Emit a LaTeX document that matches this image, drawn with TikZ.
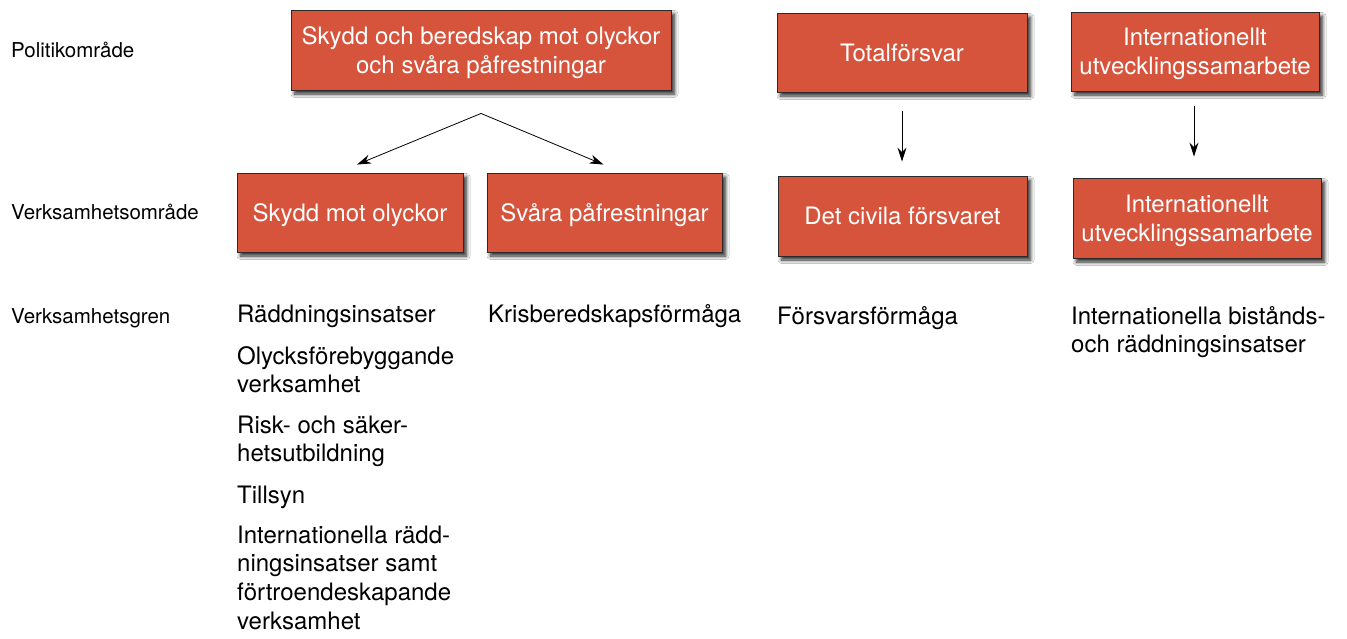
\documentclass[tikz,border=0pt]{standalone}
\usepackage{fontspec}
\setmainfont{TeX Gyre Heros}
\usetikzlibrary{arrows.meta,shadows.blur,calc}
\definecolor{boxred}{HTML}{D6543C}
\definecolor{boxline}{HTML}{2A2A2A}
\newcommand\itemlines[1]{\begin{tabular}[t]{@{}l@{}}#1\end{tabular}}
\newcommand\boxlines[1]{\raisebox{-3pt}[\height][\depth]{\begin{tabular}{@{}c@{}}#1\end{tabular}}}
\tikzset{
  redbox/.style={draw=boxline, line width=0.9pt, fill=boxred, text=white,
    inner sep=2pt,
    font=\fontsize{24}{29}\selectfont,
    blur shadow={shadow xshift=3.5pt, shadow yshift=-4pt, shadow blur radius=3.5pt, shadow blur steps=8, shadow opacity=85}},
  rowlabel/.style={anchor=base west, inner sep=0pt, font=\fontsize{20.5}{25}\selectfont},
  item/.style={anchor=base west, inner sep=0pt, font=\fontsize{24}{28.7}\selectfont},
  conn/.style={draw=black, line width=0.8pt, -{Stealth[length=14pt,width=9pt,inset=4.5pt]}},
}
\begin{document}
\begin{tikzpicture}[x=1pt,y=-1pt]
\useasboundingbox[fill=white] (0,0) rectangle (1347,638);
% row labels
\node[rowlabel] (l1) at (11,57) {Politikområde};
\node[rowlabel] (l2) at (11,219) {Verksamhetsområde};
\node[rowlabel] (l3) at (11,323) {Verksamhetsgren};
% boxes
\node[redbox, minimum width=380pt, minimum height=80pt] (top) at (481,50) {\boxlines{Skydd och beredskap mot olyckor\\och svåra påfrestningar}};
\node[redbox, minimum width=226pt, minimum height=79pt] (skydd) at (350,212.5) {\boxlines{Skydd mot olyckor}};
\node[redbox, minimum width=235pt, minimum height=79pt] (svara) at (604.5,212.5) {\boxlines{Svåra påfrestningar}};
\node[redbox, minimum width=250pt, minimum height=79pt] (total) at (902,52.5) {\boxlines{Totalförsvar}};
\node[redbox, minimum width=249pt, minimum height=80pt] (civil) at (902.5,216) {\boxlines{Det civila försvaret}};
\node[redbox, minimum width=248pt, minimum height=79pt] (intl1) at (1195,51.5) {\boxlines{Internationellt\\utvecklingssamarbete}};
\node[redbox, minimum width=248pt, minimum height=80pt] (intl2) at (1197,218) {\boxlines{Internationellt\\utvecklingssamarbete}};
% connectors
\coordinate (apex) at ($(top.south)+(0,23)$);
\path[conn] (apex) -- ($(skydd.north)+(7,-8)$);
\path[conn] (apex) -- ($(svara.north)+(-1,-8)$);
\path[conn, shorten <=19pt, shorten >=14pt] (total.south) -- (total.south |- civil.north);
\path[conn, shorten <=15pt, shorten >=21pt] (intl1.south -| 1194,0) -- (intl2.north -| 1194,0);
% items
\node[item] (i1) at (237,322) {Räddningsinsatser};
\node[item] (i2) at (237,364) {\itemlines{Olycksförebyggande\\verksamhet}};
\node[item] (i3) at (237,433) {\itemlines{Risk- och säker-\\hetsutbildning}};
\node[item] (i4) at (237,503) {Tillsyn};
\node[item] (i5) at (237,543) {\itemlines{Internationella rädd-\\ningsinsatser samt\\förtroendeskapande\\verksamhet}};
\node[item] (k1) at (488,322) {Krisberedskapsförmåga};
\node[item] (f1) at (777,324) {Försvarsförmåga};
\node[item] (b1) at (1071,324) {\itemlines{Internationella bistånds-\\och räddningsinsatser}};
\end{tikzpicture}
\end{document}
